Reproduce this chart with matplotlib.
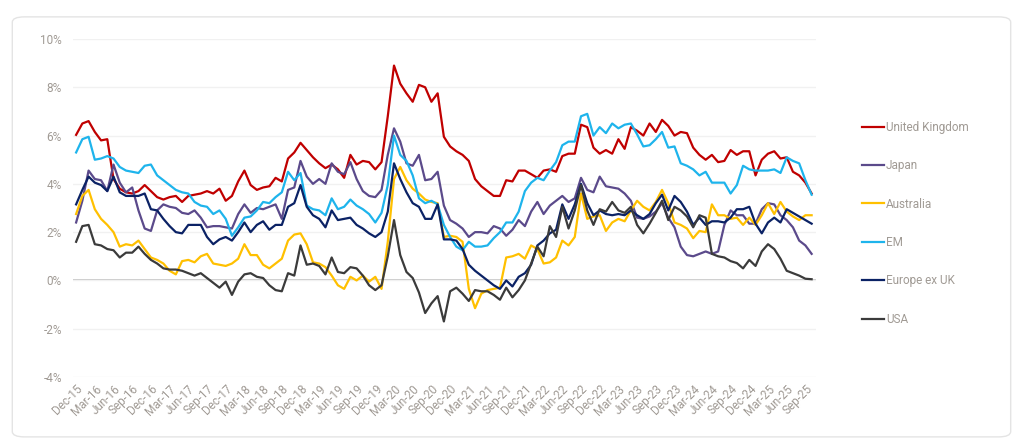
import matplotlib.pyplot as plt
import numpy as np
import pandas as pd
from matplotlib.patches import FancyBboxPatch

# monthly series, Dec-15 .. Oct-25 (%)
uk = [6.03, 6.5, 6.6, 6.15, 5.8, 5.85, 4.2, 3.8, 3.65, 3.6, 3.7, 3.95, 3.7, 3.45, 3.35, 3.45, 3.5, 3.25, 3.5, 3.55,
      3.6, 3.7, 3.6, 3.8, 3.3, 3.5, 4.1, 4.55, 3.95, 3.75, 3.85, 3.9, 4.25, 4.1, 5.05, 5.3, 5.7, 5.4, 5.1, 4.85,
      4.65, 4.8, 4.6, 4.25, 5.2, 4.8, 4.95, 4.9, 4.6, 4.9, 6.8, 8.9, 8.15, 7.75, 7.4, 8.1, 8.0, 7.4, 7.75, 5.95,
      5.55, 5.35, 5.2, 4.95, 4.2, 3.9, 3.7, 3.5, 3.5, 4.15, 4.1, 4.55, 4.55, 4.4, 4.25, 4.55, 4.6, 4.5, 5.15, 5.25,
      5.25, 6.45, 6.35, 5.5, 5.25, 5.4, 5.25, 5.85, 5.45, 6.35, 6.2, 6.0, 6.5, 6.15, 6.65, 6.4, 6.0, 6.15, 6.1, 5.5,
      5.2, 5.0, 5.2, 4.9, 4.95, 5.4, 5.2, 5.35, 5.35, 4.35, 5.0, 5.25, 5.35, 5.05, 5.1, 4.5, 4.35, 4.05, 3.6]
japan = [2.4, 3.3, 4.55, 4.2, 4.15, 3.7, 4.8, 4.05, 3.65, 3.85, 2.9, 2.15, 2.05, 2.9, 3.15, 3.05, 3.0, 2.8, 2.75, 2.9,
         2.6, 2.2, 2.25, 2.25, 2.2, 2.15, 2.75, 3.15, 2.8, 3.0, 2.95, 3.05, 3.15, 2.55, 3.75, 3.85, 4.95, 4.3, 4.0, 4.2,
         4.0, 4.85, 4.5, 4.4, 4.9, 4.2, 3.7, 3.5, 3.45, 3.75, 5.2, 6.3, 5.75, 4.85, 4.75, 5.2, 4.15, 4.2, 4.5, 3.1,
         2.5, 2.35, 2.15, 1.8, 2.0, 2.0, 1.95, 2.25, 2.15, 1.85, 2.1, 2.5, 2.25, 2.85, 3.25, 2.75, 3.1, 3.3, 3.5, 3.25,
         3.4, 4.25, 3.75, 3.65, 4.3, 3.9, 3.85, 3.8, 3.6, 3.3, 2.6, 2.55, 2.65, 2.85, 3.2, 2.6, 2.2, 1.4, 1.05, 1.0,
         1.1, 1.2, 1.1, 1.2, 2.3, 2.9, 2.7, 2.7, 2.35, 2.35, 2.95, 3.2, 3.15, 2.7, 2.5, 2.2, 1.65, 1.45, 1.1]
australia = [2.75, 3.5, 3.75, 2.95, 2.55, 2.3, 2.0, 1.4, 1.5, 1.45, 1.65, 1.3, 0.95, 0.85, 0.7, 0.4, 0.25, 0.8, 0.85, 0.75,
             1.0, 1.1, 0.7, 0.65, 0.6, 0.7, 0.9, 1.5, 1.05, 1.05, 0.65, 0.5, 0.7, 0.9, 1.65, 1.9, 1.95, 1.5, 0.75, 0.7,
             0.55, 0.2, -0.2, -0.35, 0.15, 0.0, 0.2, -0.05, 0.15, -0.35, 1.6, 4.2, 4.7, 4.15, 3.8, 3.6, 3.35, 3.25, 3.2, 1.8,
             1.85, 1.8, 1.6, -0.35, -1.15, -0.55, -0.4, -0.35, -0.3, 0.95, 1.0, 1.1, 0.9, 1.45, 1.3, 0.7, 0.75, 0.95, 1.65, 1.45,
             1.8, 3.6, 2.55, 2.65, 2.7, 2.05, 2.4, 2.55, 2.45, 2.9, 3.3, 3.05, 2.9, 3.25, 3.75, 3.2, 2.4, 2.3, 2.15, 1.75,
             2.05, 2.0, 3.15, 2.7, 2.7, 2.55, 2.6, 2.3, 2.6, 2.3, 2.7, 3.2, 2.75, 3.25, 2.85, 2.65, 2.5, 2.7, 2.7]
em = [5.3, 5.85, 5.95, 5.0, 5.05, 5.15, 5.05, 4.7, 4.55, 4.5, 4.45, 4.75, 4.8, 4.35, 4.15, 3.95, 3.75, 3.65, 3.6, 3.25,
      3.1, 3.05, 2.75, 2.9, 2.55, 1.85, 2.2, 2.6, 2.65, 2.9, 3.25, 3.2, 3.45, 3.65, 4.5, 4.15, 4.45, 3.1, 2.95, 2.9,
      2.7, 3.4, 2.95, 3.05, 3.35, 3.1, 2.95, 2.75, 2.4, 2.8, 3.95, 6.0, 5.2, 4.95, 4.35, 3.4, 3.2, 3.3, 3.15, 2.3,
      1.8, 1.4, 1.25, 1.6, 1.4, 1.4, 1.45, 1.75, 2.0, 2.4, 2.4, 2.85, 3.7, 4.05, 4.25, 4.15, 4.55, 4.9, 5.6, 5.75,
      5.75, 6.8, 6.9, 6.0, 6.35, 6.1, 6.5, 6.3, 6.45, 6.5, 6.05, 5.55, 5.6, 5.85, 6.15, 5.5, 5.55, 4.85, 4.75, 4.6,
      4.35, 4.5, 4.05, 4.05, 4.05, 3.6, 3.95, 4.75, 4.6, 4.55, 4.55, 4.55, 4.6, 4.45, 5.1, 4.95, 4.85, 4.15, 3.55]
europe = [3.15, 3.75, 4.3, 4.05, 3.95, 3.7, 4.3, 3.65, 3.5, 3.5, 3.5, 3.6, 2.95, 2.9, 2.55, 2.25, 2.0, 1.95, 2.3, 2.3,
          2.3, 1.8, 1.5, 1.7, 1.8, 1.65, 2.0, 2.4, 2.0, 2.3, 2.45, 2.1, 2.3, 2.3, 3.05, 3.2, 3.95, 3.05, 2.7, 2.55,
          2.2, 2.9, 2.5, 2.55, 2.6, 2.3, 2.15, 1.95, 1.8, 2.0, 2.85, 4.85, 4.2, 3.65, 3.2, 3.05, 2.55, 2.55, 3.15, 1.7,
          1.7, 1.65, 1.3, 0.65, 0.4, 0.2, 0.0, -0.2, -0.35, 0.0, -0.25, 0.15, 0.3, 0.65, 1.45, 1.65, 1.95, 2.1, 3.15, 2.55,
          3.15, 4.0, 3.2, 2.7, 2.9, 2.75, 2.7, 2.75, 2.7, 2.9, 2.7, 2.55, 2.75, 3.2, 3.55, 2.9, 3.5, 3.25, 2.85, 2.3,
          2.6, 2.3, 2.45, 2.45, 2.4, 2.6, 2.95, 2.95, 3.05, 2.35, 1.95, 2.4, 2.6, 2.4, 2.95, 2.8, 2.65, 2.5, 2.35]
usa = [1.6, 2.25, 2.3, 1.5, 1.45, 1.3, 1.25, 0.95, 1.15, 1.15, 1.4, 1.1, 0.85, 0.7, 0.5, 0.45, 0.45, 0.4, 0.3, 0.2,
       0.3, 0.1, -0.1, -0.3, -0.05, -0.6, -0.05, 0.25, 0.3, 0.15, 0.1, -0.2, -0.4, -0.45, 0.3, 0.2, 1.45, 0.65, 0.7, 0.6,
       0.25, 0.95, 0.35, 0.3, 0.55, 0.5, 0.2, -0.2, -0.4, -0.2, 1.0, 2.5, 1.05, 0.35, 0.1, -0.5, -1.35, -0.95, -0.65, -1.7,
       -0.45, -0.3, -0.55, -0.85, -0.4, -0.45, -0.45, -0.6, -0.8, -0.3, -0.7, -0.4, 0.0, 0.7, 1.4, 1.0, 2.25, 1.8, 3.05, 2.15,
       2.9, 3.95, 2.9, 2.3, 2.95, 2.85, 3.25, 2.9, 2.8, 3.05, 2.3, 1.95, 2.35, 2.8, 3.3, 2.5, 3.05, 2.9, 2.65, 2.2,
       2.7, 2.6, 1.1, 1.0, 0.95, 0.8, 0.72, 0.5, 0.85, 0.6, 1.2, 1.5, 1.3, 0.9, 0.4, 0.3, 0.2, 0.07, 0.05]

series_names = ['United Kingdom', 'Japan', 'Australia', 'EM', 'Europe ex UK', 'USA']
colors = ['#C00000', '#5B4A8B', '#FFC000', '#1EB4EC', '#0B2265', '#3B3B3B']
dates = pd.date_range('2015-12-01', periods=len(uk), freq='MS')
labels = [d.strftime('%b-%y') for d in dates]

plt.rcParams['font.family'] = ['Roboto', 'DejaVu Sans']
txt = '#A09A94'

fig = plt.figure(figsize=(10.24, 4.44), dpi=100)
card = FancyBboxPatch((0.012, 0.016), 0.975, 0.946, boxstyle='round,pad=0,rounding_size=0.012',
                      transform=fig.transFigure, facecolor='white', edgecolor='#E4E4E4', lw=1.0, zorder=-10)
fig.patches.append(card)
ax = fig.add_axes([73/1024, 67/444, 743/1024, 338/444])
ax.set_facecolor('none')
ax.set_zorder(5)

x = np.arange(len(uk))
for name, vals, c in zip(series_names, [uk, japan, australia, em, europe, usa], colors):
    ax.plot(x, vals, color=c, lw=1.6, label=name, zorder=3)

ax.set_xlim(-0.5, 118.7)
ax.set_ylim(-4, 10)
ax.set_yticks(np.arange(-4, 11, 2))
ax.set_yticklabels([f'{v}%' for v in range(-4, 11, 2)])
ax.set_xticks(x[::3])
ax.set_xticklabels(labels[::3], rotation=45, ha='right', rotation_mode='anchor')
ax.tick_params(length=0, labelsize=8.5, colors=txt)
ax.tick_params(axis='y', pad=8)
ax.tick_params(axis='x', pad=4)
for s in ax.spines.values():
    s.set_visible(False)
ax.grid(axis='y', color='#F1F1F1', lw=1.0, zorder=0)
ax.axhline(0, color='#C8C8C8', lw=1.4, zorder=1)

leg = ax.legend(loc='center left', bbox_to_anchor=((851 - 73) / 743, 0.455), frameon=False,
                labelspacing=2.15, handlelength=1.9, handletextpad=0.15, fontsize=8.5)
for t in leg.get_texts():
    t.set_color(txt)

fig.savefig('out.png', dpi=100)
